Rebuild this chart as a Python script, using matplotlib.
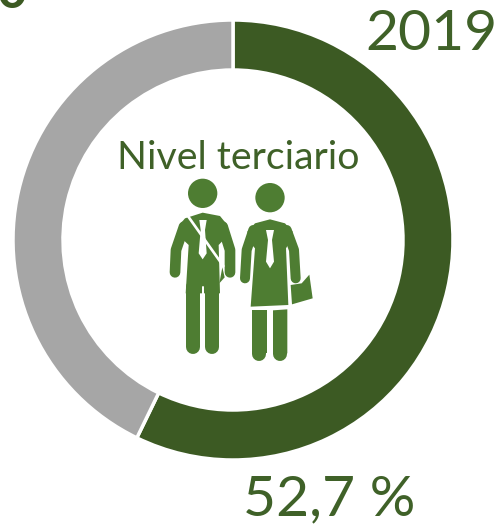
#Donut chart, nivel terciario 2019
import matplotlib
matplotlib.use('Agg')
import matplotlib.pyplot as plt
from matplotlib.patches import Circle, Polygon

# share of the ring as drawn in the picture (the label says 52,7)
shares = [57.2, 42.8]
colors = ['#3C5A23', '#A6A6A6']
year = '2019'
center_label = 'Nivel terciario'
value_label = '52,7 %'

W, H = 501, 528
green = '#4E7D32'
textcol = '#3F6128'

plt.rcParams['font.family'] = ['Lato', 'DejaVu Sans']

fig = plt.figure(figsize=(W/100, H/100), dpi=100)

# ring
cx, cy, r = 233, 240, 220
axp = fig.add_axes([(cx-r)/W, 1-(cy+r)/H, 2*r/W, 2*r/H])
axp.pie(shares, colors=colors, startangle=90, counterclock=False, radius=1.0,
        wedgeprops=dict(width=50/220, edgecolor='white', linewidth=2.5))
axp.set_xlim(-1, 1)
axp.set_ylim(-1, 1)
axp.axis('off')

# overlay in pixel coords
ax = fig.add_axes([0, 0, 1, 1])
ax.set_xlim(0, W)
ax.set_ylim(H, 0)
ax.axis('off')
ax.patch.set_alpha(0)

ax.text(498, 35, year, color=textcol, fontsize=41, ha='right', va='center')
ax.text(238, 158, center_label, color=textcol, fontsize=28.3, ha='center', va='center')
ax.text(329, 500, value_label, color=textcol, fontsize=41, ha='center', va='center')
ax.text(12, -8, '0', color=colors[0], fontsize=38, fontweight='bold', ha='center', va='center')


# icon shapes are traced in a 3x crop, origin (140,170)
def P(pts):
    return [(140+x/3, 170+y/3) for x, y in pts]


def limb(pts, w, col=green):
    (x, y) = zip(*P(pts))
    ax.plot(x, y, color=col, lw=w/3*0.72, solid_capstyle='round', solid_joinstyle='round')


def poly(pts, col=green):
    ax.add_patch(Polygon(P(pts), closed=True, fc=col, ec='none'))


# man
ax.add_patch(Circle(P([(188, 70)])[0], 44/3, fc=green, ec='none'))
poly([(135, 145), (188, 128), (240, 138), (262, 165), (255, 205), (236, 225), (240, 370), (137, 370), (146, 225), (125, 205), (118, 165)])
limb([(132, 170), (108, 240), (105, 307)], 32)
limb([(248, 170), (270, 240), (270, 307)], 32)
limb([(158, 350), (158, 530)], 42)
limb([(217, 350), (217, 530)], 42)
limb([(188, 350), (188, 560)], 6, 'white')
limb([(145, 140), (250, 288)], 8, 'white')
poly([(178, 150), (200, 150), (195, 180), (200, 250), (188, 268), (176, 250), (182, 180)], 'white')
poly([(238, 340), (247, 292), (254, 322)])

# woman
ax.add_patch(Circle(P([(390, 83)])[0], 44/3, fc=green, ec='none'))
poly([(345, 160), (390, 148), (435, 160), (458, 185), (450, 215), (438, 235), (445, 405), (332, 410), (345, 235), (328, 215), (322, 185)])
limb([(340, 180), (320, 240), (315, 325)], 30)
limb([(440, 180), (462, 240), (467, 325)], 30)
poly([(337, 421), (380, 421), (380, 550), (337, 550)])
poly([(399, 421), (442, 418), (442, 550), (399, 550)])
limb([(358, 550), (358, 552)], 42)
limb([(420, 550), (420, 552)], 42)
poly([(378, 180), (402, 180), (396, 210), (402, 275), (390, 295), (378, 275), (384, 210)], 'white')
poly([(452, 345), (485, 340), (508, 314), (518, 385), (456, 403)])

fig.savefig('out.png', dpi=100)
